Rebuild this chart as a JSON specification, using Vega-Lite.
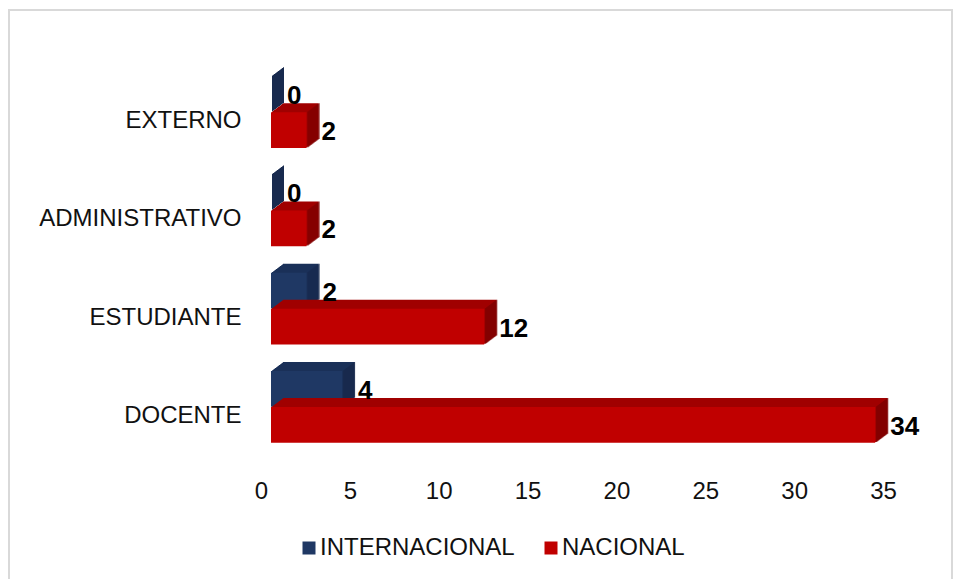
{"$schema":"https://vega.github.io/schema/vega-lite/v6.json","width":943,"height":570,"autosize":"none","padding":{"left":9,"top":10,"right":2,"bottom":0},"background":"white","config":{"view":{"stroke":"#d9d9d9","strokeWidth":2},"font":"Liberation Sans"},
"data":{"values":[
{"c":"EXTERNO","s":"INTERNACIONAL","v":0},{"c":"EXTERNO","s":"NACIONAL","v":2},
{"c":"ADMINISTRATIVO","s":"INTERNACIONAL","v":0},{"c":"ADMINISTRATIVO","s":"NACIONAL","v":2},
{"c":"ESTUDIANTE","s":"INTERNACIONAL","v":2},{"c":"ESTUDIANTE","s":"NACIONAL","v":12},
{"c":"DOCENTE","s":"INTERNACIONAL","v":4},{"c":"DOCENTE","s":"NACIONAL","v":34}]},
"resolve":{"scale":{"y":"independent"}},
"encoding":{
"x":{"field":"v","type":"quantitative","stack":null,"scale":{"domain":[0,35],"nice":false,"range":[262,884]},"axis":{"title":null,"domain":false,"ticks":false,"grid":false,"values":[0,5,10,15,20,25,30,35],"labelOffset":-10,"labelPadding":0,"offset":-101,"labelFontSize":24,"labelColor":"#111111","labelFont":"Liberation Sans","labelFlush":false}}},
"layer":[
{"transform":[{"filter":"datum.s==='INTERNACIONAL'"}],
"encoding":{"y":{"field":"c","type":"nominal","sort":["EXTERNO","ADMINISTRATIVO","ESTUDIANTE","DOCENTE"],"scale":{"range":[35,428],"paddingInner":0.634,"paddingOuter":0.317},"axis":{"title":null,"domain":false,"ticks":false,"labelPadding":0,"offset":-232,"labelFontSize":24,"labelColor":"#111111","labelFont":"Liberation Sans","labelOffset":27,"labelLimit":300}}},
"layer":[
{"encoding":{"x2":{"datum":0}},"layer":[
{"mark":{"type":"bar","color":"#1b3059","xOffset":12,"x2Offset":12,"yOffset":-9,"y2Offset":-9}},
{"mark":{"type":"bar","color":"#1b3059","xOffset":11,"x2Offset":11,"yOffset":-8.25,"y2Offset":-8.25}},
{"mark":{"type":"bar","color":"#1b3059","xOffset":10,"x2Offset":10,"yOffset":-7.5,"y2Offset":-7.5}},
{"mark":{"type":"bar","color":"#1b3059","xOffset":9,"x2Offset":9,"yOffset":-6.75,"y2Offset":-6.75}},
{"mark":{"type":"bar","color":"#1b3059","xOffset":8,"x2Offset":8,"yOffset":-6,"y2Offset":-6}},
{"mark":{"type":"bar","color":"#1b3059","xOffset":7,"x2Offset":7,"yOffset":-5.25,"y2Offset":-5.25}},
{"mark":{"type":"bar","color":"#1b3059","xOffset":6,"x2Offset":6,"yOffset":-4.5,"y2Offset":-4.5}},
{"mark":{"type":"bar","color":"#1b3059","xOffset":5,"x2Offset":5,"yOffset":-3.75,"y2Offset":-3.75}},
{"mark":{"type":"bar","color":"#1b3059","xOffset":4,"x2Offset":4,"yOffset":-3,"y2Offset":-3}},
{"mark":{"type":"bar","color":"#1b3059","xOffset":3,"x2Offset":3,"yOffset":-2.25,"y2Offset":-2.25}},
{"mark":{"type":"bar","color":"#1b3059","xOffset":2,"x2Offset":2,"yOffset":-1.5,"y2Offset":-1.5}},
{"mark":{"type":"bar","color":"#1b3059","xOffset":1,"x2Offset":1,"yOffset":-0.75,"y2Offset":-0.75}}]},
{"encoding":{"x2":{"field":"v"}},"layer":[
{"mark":{"type":"bar","color":"#182a4e","xOffset":12,"x2Offset":13,"yOffset":-9,"y2Offset":-9}},
{"mark":{"type":"bar","color":"#182a4e","xOffset":11,"x2Offset":12,"yOffset":-8.25,"y2Offset":-8.25}},
{"mark":{"type":"bar","color":"#182a4e","xOffset":10,"x2Offset":11,"yOffset":-7.5,"y2Offset":-7.5}},
{"mark":{"type":"bar","color":"#182a4e","xOffset":9,"x2Offset":10,"yOffset":-6.75,"y2Offset":-6.75}},
{"mark":{"type":"bar","color":"#182a4e","xOffset":8,"x2Offset":9,"yOffset":-6,"y2Offset":-6}},
{"mark":{"type":"bar","color":"#182a4e","xOffset":7,"x2Offset":8,"yOffset":-5.25,"y2Offset":-5.25}},
{"mark":{"type":"bar","color":"#182a4e","xOffset":6,"x2Offset":7,"yOffset":-4.5,"y2Offset":-4.5}},
{"mark":{"type":"bar","color":"#182a4e","xOffset":5,"x2Offset":6,"yOffset":-3.75,"y2Offset":-3.75}},
{"mark":{"type":"bar","color":"#182a4e","xOffset":4,"x2Offset":5,"yOffset":-3,"y2Offset":-3}},
{"mark":{"type":"bar","color":"#182a4e","xOffset":3,"x2Offset":4,"yOffset":-2.25,"y2Offset":-2.25}},
{"mark":{"type":"bar","color":"#182a4e","xOffset":2,"x2Offset":3,"yOffset":-1.5,"y2Offset":-1.5}},
{"mark":{"type":"bar","color":"#182a4e","xOffset":1,"x2Offset":2,"yOffset":-0.75,"y2Offset":-0.75}}]},
{"mark":{"type":"bar"},"encoding":{"x2":{"datum":0},"color":{"field":"s","type":"nominal","scale":{"domain":["INTERNACIONAL","NACIONAL"],"range":["#1f3864","#c00000"]},"legend":{"title":null,"orient":"none","legendX":288,"legendY":526,"direction":"horizontal","symbolType":"square","symbolSize":169,"symbolStrokeWidth":0,"labelFontSize":24,"labelColor":"#111111","labelFont":"Liberation Sans","labelOffset":-1,"columnPadding":24,"labelLimit":300}}}}
]},
{"transform":[{"filter":"datum.s==='NACIONAL'"}],
"encoding":{"y":{"field":"c","type":"nominal","sort":["EXTERNO","ADMINISTRATIVO","ESTUDIANTE","DOCENTE"],"scale":{"range":[71,464],"paddingInner":0.634,"paddingOuter":0.317},"axis":null}},
"layer":[
{"encoding":{"x2":{"datum":0}},"layer":[
{"mark":{"type":"bar","color":"#a00000","xOffset":12,"x2Offset":12,"yOffset":-9,"y2Offset":-9}},
{"mark":{"type":"bar","color":"#a00000","xOffset":11,"x2Offset":11,"yOffset":-8.25,"y2Offset":-8.25}},
{"mark":{"type":"bar","color":"#a00000","xOffset":10,"x2Offset":10,"yOffset":-7.5,"y2Offset":-7.5}},
{"mark":{"type":"bar","color":"#a00000","xOffset":9,"x2Offset":9,"yOffset":-6.75,"y2Offset":-6.75}},
{"mark":{"type":"bar","color":"#a00000","xOffset":8,"x2Offset":8,"yOffset":-6,"y2Offset":-6}},
{"mark":{"type":"bar","color":"#a00000","xOffset":7,"x2Offset":7,"yOffset":-5.25,"y2Offset":-5.25}},
{"mark":{"type":"bar","color":"#a00000","xOffset":6,"x2Offset":6,"yOffset":-4.5,"y2Offset":-4.5}},
{"mark":{"type":"bar","color":"#a00000","xOffset":5,"x2Offset":5,"yOffset":-3.75,"y2Offset":-3.75}},
{"mark":{"type":"bar","color":"#a00000","xOffset":4,"x2Offset":4,"yOffset":-3,"y2Offset":-3}},
{"mark":{"type":"bar","color":"#a00000","xOffset":3,"x2Offset":3,"yOffset":-2.25,"y2Offset":-2.25}},
{"mark":{"type":"bar","color":"#a00000","xOffset":2,"x2Offset":2,"yOffset":-1.5,"y2Offset":-1.5}},
{"mark":{"type":"bar","color":"#a00000","xOffset":1,"x2Offset":1,"yOffset":-0.75,"y2Offset":-0.75}}]},
{"encoding":{"x2":{"field":"v"}},"layer":[
{"mark":{"type":"bar","color":"#7d0000","xOffset":12,"x2Offset":13,"yOffset":-9,"y2Offset":-9}},
{"mark":{"type":"bar","color":"#7d0000","xOffset":11,"x2Offset":12,"yOffset":-8.25,"y2Offset":-8.25}},
{"mark":{"type":"bar","color":"#7d0000","xOffset":10,"x2Offset":11,"yOffset":-7.5,"y2Offset":-7.5}},
{"mark":{"type":"bar","color":"#7d0000","xOffset":9,"x2Offset":10,"yOffset":-6.75,"y2Offset":-6.75}},
{"mark":{"type":"bar","color":"#7d0000","xOffset":8,"x2Offset":9,"yOffset":-6,"y2Offset":-6}},
{"mark":{"type":"bar","color":"#7d0000","xOffset":7,"x2Offset":8,"yOffset":-5.25,"y2Offset":-5.25}},
{"mark":{"type":"bar","color":"#7d0000","xOffset":6,"x2Offset":7,"yOffset":-4.5,"y2Offset":-4.5}},
{"mark":{"type":"bar","color":"#7d0000","xOffset":5,"x2Offset":6,"yOffset":-3.75,"y2Offset":-3.75}},
{"mark":{"type":"bar","color":"#7d0000","xOffset":4,"x2Offset":5,"yOffset":-3,"y2Offset":-3}},
{"mark":{"type":"bar","color":"#7d0000","xOffset":3,"x2Offset":4,"yOffset":-2.25,"y2Offset":-2.25}},
{"mark":{"type":"bar","color":"#7d0000","xOffset":2,"x2Offset":3,"yOffset":-1.5,"y2Offset":-1.5}},
{"mark":{"type":"bar","color":"#7d0000","xOffset":1,"x2Offset":2,"yOffset":-0.75,"y2Offset":-0.75}}]},
{"mark":{"type":"bar"},"encoding":{"x2":{"datum":0},"color":{"field":"s","type":"nominal","scale":{"domain":["INTERNACIONAL","NACIONAL"],"range":["#1f3864","#c00000"]}}}}
]},
{"transform":[{"filter":"datum.s==='NACIONAL'"}],
"mark":{"type":"text","align":"left","baseline":"middle","dx":15,"dy":2,"fontSize":26,"fontWeight":"bold","font":"Liberation Sans","color":"#000000"},
"encoding":{"y":{"field":"c","type":"nominal","sort":["EXTERNO","ADMINISTRATIVO","ESTUDIANTE","DOCENTE"],"scale":{"range":[71,464],"paddingInner":0.634,"paddingOuter":0.317},"axis":null},"text":{"field":"v","type":"quantitative"}}},
{"transform":[{"filter":"datum.s==='INTERNACIONAL'"}],
"mark":{"type":"text","align":"left","baseline":"middle","dx":16,"dy":2,"fontSize":26,"fontWeight":"bold","font":"Liberation Sans","color":"#000000"},
"encoding":{"y":{"field":"c","type":"nominal","sort":["EXTERNO","ADMINISTRATIVO","ESTUDIANTE","DOCENTE"],"scale":{"range":[35,428],"paddingInner":0.634,"paddingOuter":0.317},"axis":null},"text":{"field":"v","type":"quantitative"}}}
]}
